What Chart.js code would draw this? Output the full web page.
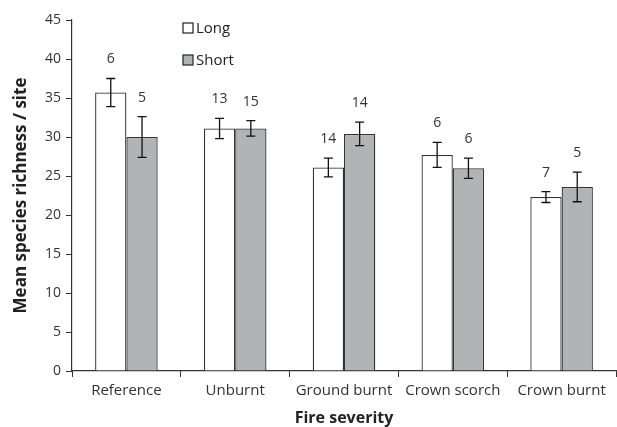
<!DOCTYPE html>
<html>
<head>
<meta charset="utf-8">
<script src="https://cdn.jsdelivr.net/npm/chart.js@4.4.0/dist/chart.umd.min.js"></script>
<style>
  html, body { margin:0; padding:0; background:#fff; }
  #wrap { width:617px; height:427px; }
</style>
</head>
<body>
<div id="wrap"><canvas id="fire_chart" width="617" height="427"></canvas></div>
<script>
// 그림에서 읽은 값
const categories = ["Reference", "Unburnt", "Ground burnt", "Crown scorch", "Crown burnt"];
const longMean  = [35.7, 31.1, 26.1, 27.7, 22.3];
const longErr   = [1.8, 1.3, 1.2, 1.6, 0.7];
const shortMean = [30.0, 31.1, 30.4, 26.0, 23.6];
const shortErr  = [2.6, 1.0, 1.5, 1.3, 1.9];
const longN  = [6, 13, 14, 6, 7];
const shortN = [5, 15, 14, 6, 5];
const yTicks = [0, 5, 10, 15, 20, 25, 30, 35, 40, 45];

const FONT = "'Open Sans', 'Noto Sans', sans-serif";
const errs = [longErr, shortErr];
const counts = [longN, shortN];

// 오차 막대 + 표본 수 라벨
const errorBarPlugin = {
    id: "errorBars",
    afterDatasetsDraw(chart) {
        let ctx = chart.ctx;
        let y = chart.scales.y;
        ctx.save();
        ctx.strokeStyle = "#111";
        ctx.lineWidth = 1.3;
        ctx.fillStyle = "#333";
        ctx.font = "14px " + FONT;
        ctx.textAlign = "center";
        ctx.textBaseline = "middle";
        chart.data.datasets.forEach(function(ds, di){
            let meta = chart.getDatasetMeta(di);
            meta.data.forEach(function(bar, i){
                let v = ds.data[i];
                let e = errs[di][i];
                let x = bar.x;
                let top = y.getPixelForValue(v + e);
                let bot = y.getPixelForValue(v - e);
                ctx.beginPath();
                ctx.moveTo(x, top); ctx.lineTo(x, bot);
                ctx.moveTo(x - 4.5, top); ctx.lineTo(x + 4.5, top);
                ctx.moveTo(x - 4.5, bot); ctx.lineTo(x + 4.5, bot);
                ctx.stroke();
                ctx.fillText(String(counts[di][i]), x, top - 19);
            });
        });
        ctx.restore();
    }
};

// 세로 범례
const legendPlugin = {
    id: "sideLegend",
    afterDraw(chart) {
        let ctx = chart.ctx;
        ctx.save();
        ctx.font = "15px " + FONT;
        ctx.textBaseline = "middle";
        ctx.textAlign = "left";
        chart.data.datasets.forEach(function(ds, di){
            let cy = 28 + di * 32;
            ctx.fillStyle = ds.backgroundColor;
            ctx.fillRect(183, cy - 5, 10, 10);
            ctx.strokeStyle = "#222";
            ctx.lineWidth = 1.2;
            ctx.strokeRect(183, cy - 5, 10, 10);
            ctx.fillStyle = "#222";
            ctx.fillText(ds.label, 196, cy + 1);
        });
        ctx.restore();
    }
};

let ctx1 = document.getElementById("fire_chart");
let fire_chart = new Chart(ctx1, {
    type: "bar",
    data: {
        labels: categories,
        datasets: [
            {
                label: "Long",
                data: longMean,
                backgroundColor: "#ffffff",
                borderColor: "#333333",
                borderWidth: 1.3,
                categoryPercentage: 0.575,
                barPercentage: 1.0
            },
            {
                label: "Short",
                data: shortMean,
                backgroundColor: "#b2b3b5",
                borderColor: "#333333",
                borderWidth: 1.3,
                categoryPercentage: 0.575,
                barPercentage: 1.0
            }
        ]
    },
    options: {
        responsive: false,
        animation: false,
        layout: { padding: { top: 20, right: 1, left: 0, bottom: 0 } },
        plugins: {
            legend: { display: false },
            tooltip: { enabled: false }
        },
        scales: {
            x: {
                grid: {
                    offset: true,
                    drawOnChartArea: false,
                    drawTicks: true,
                    tickLength: 6,
                    color: "#333"
                },
                border: { display: true, color: "#333", width: 1.2 },
                ticks: {
                    color: "#333",
                    font: { family: FONT, size: 15 },
                    padding: 5,
                    maxRotation: 0,
                    autoSkip: false
                },
                title: {
                    display: true,
                    text: "Fire severity",
                    color: "#222",
                    font: { family: FONT, size: 16, weight: "bold" },
                    padding: { top: 11, bottom: -1 }
                },
                afterFit: function(scale){ scale.height = 56; }
            },
            y: {
                min: 0,
                max: 45,
                afterBuildTicks: function(scale){
                    scale.ticks = yTicks.map(function(v){ return { value: v }; });
                },
                grid: {
                    drawOnChartArea: false,
                    drawTicks: true,
                    tickLength: 6,
                    color: "#333"
                },
                border: { display: true, color: "#333", width: 1.2 },
                ticks: {
                    color: "#333",
                    font: { family: FONT, size: 14 },
                    padding: 5
                },
                title: {
                    display: true,
                    text: "Mean species richness / site",
                    color: "#222",
                    font: { family: FONT, size: 17, weight: "bold" },
                    padding: { top: 11, bottom: 4 }
                },
                afterFit: function(scale){ scale.width = 72; }
            }
        }
    },
    plugins: [errorBarPlugin, legendPlugin]
});
</script>
</body>
</html>
